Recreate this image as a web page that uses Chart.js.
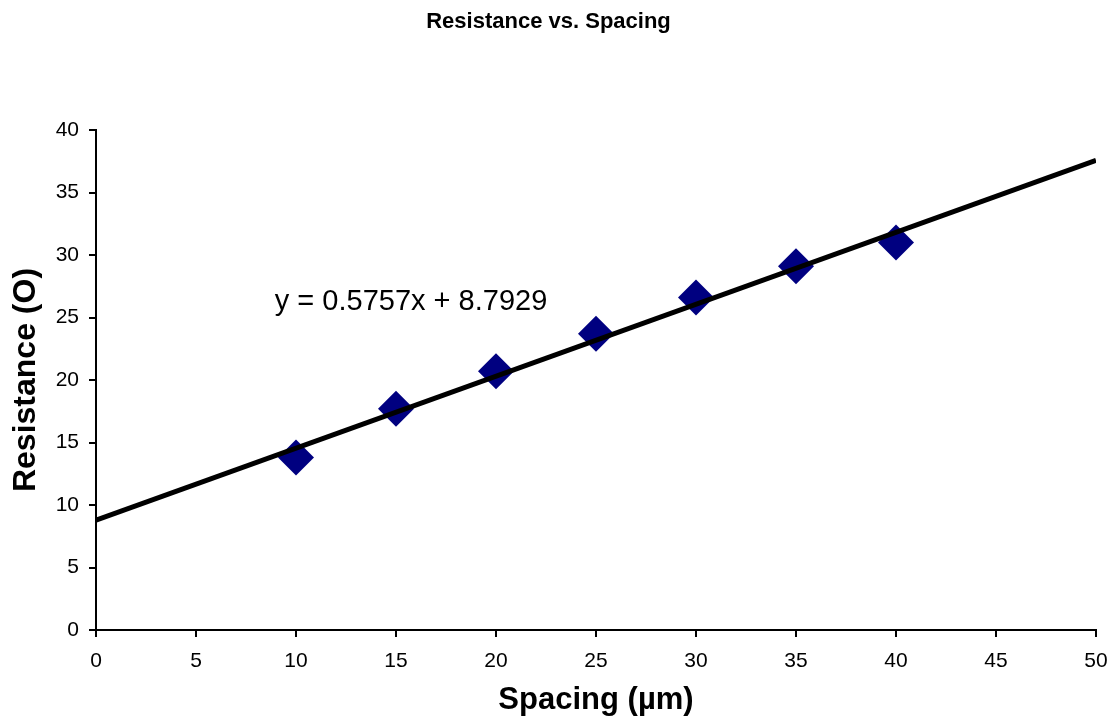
<!DOCTYPE html>
<html>
<head>
<meta charset="utf-8">
<script src="https://cdn.jsdelivr.net/npm/chart.js@4/dist/chart.umd.min.js"></script>
<style>
  html, body { margin: 0; padding: 0; background: #fff; }
  #wrap { width: 1114px; height: 728px; }
</style>
</head>
<body>
<div id="wrap"><canvas id="chart"></canvas></div>
<script>
const spacing = [10, 15, 20, 25, 30, 35, 40];
const resistance = [13.8, 17.7, 20.7, 23.7, 26.6, 29.1, 31.0];

// trendline as printed on the chart
const slope = 0.5757;
const intercept = 8.7929;
const trendX = [0, 50];
const equationText = 'y = 0.5757x + 8.7929';
const equationAt = { x: 8.94, y: 25.6 };

const fontFamily = '"Liberation Sans", Arial, sans-serif';

const equationLabel = {
    id: 'equationLabel',
    afterDatasetsDraw(chart) {
        const ctx = chart.ctx;
        const px = chart.scales.x.getPixelForValue(equationAt.x);
        const py = chart.scales.y.getPixelForValue(equationAt.y);
        ctx.save();
        ctx.font = '29px ' + fontFamily;
        ctx.fillStyle = '#000';
        ctx.textAlign = 'left';
        ctx.textBaseline = 'alphabetic';
        ctx.fillText(equationText, px, py);
        ctx.restore();
    }
};

const axisLook = {
    grid: { drawOnChartArea: false, drawTicks: true, tickLength: 7, color: '#000', lineWidth: 2 },
    border: { display: true, color: '#000', width: 2 }
};

new Chart(document.getElementById('chart'), {
    type: 'scatter',
    data: {
        datasets: [
            {
                label: 'Linear',
                data: trendX.map(x => ({ x: x, y: slope * x + intercept })),
                showLine: true,
                borderColor: '#000',
                borderWidth: 5,
                pointRadius: 0
            },
            {
                label: 'Resistance',
                data: spacing.map((x, i) => ({ x: x, y: resistance[i] })),
                pointStyle: 'rectRot',
                pointRadius: 18,
                pointBackgroundColor: '#000080',
                pointBorderColor: '#000080',
                pointBorderWidth: 0
            }
        ]
    },
    options: {
        responsive: true,
        maintainAspectRatio: false,
        animation: false,
        layout: { padding: { left: 0, right: 17, top: 0, bottom: 0 } },
        plugins: {
            legend: { display: false },
            tooltip: { enabled: false },
            title: {
                display: true,
                text: 'Resistance vs. Spacing',
                color: '#000',
                font: { family: fontFamily, size: 22, weight: 'bold' },
                padding: { top: 9, bottom: 94.6 }
            }
        },
        scales: {
            x: {
                type: 'linear',
                min: 0,
                max: 50,
                ...axisLook,
                ticks: { stepSize: 5, color: '#000', padding: 12, font: { family: fontFamily, size: 21 } },
                title: {
                    display: true,
                    text: 'Spacing (µm)',
                    color: '#000',
                    font: { family: fontFamily, size: 31, weight: 'bold' },
                    padding: { top: 0, bottom: 9 }
                },
                afterFit: s => { s.height = 98; s.paddingRight = 0; s.paddingLeft = 0; }
            },
            y: {
                type: 'linear',
                min: 0,
                max: 40,
                ...axisLook,
                ticks: { stepSize: 5, color: '#000', padding: 10, font: { family: fontFamily, size: 21 } },
                title: {
                    display: true,
                    text: 'Resistance (O)',
                    color: '#000',
                    font: { family: fontFamily, size: 32, weight: 'bold' },
                    padding: { top: 7, bottom: 0 }
                },
                afterFit: s => { s.width = 96; }
            }
        }
    },
    plugins: [equationLabel]
});
</script>
</body>
</html>
